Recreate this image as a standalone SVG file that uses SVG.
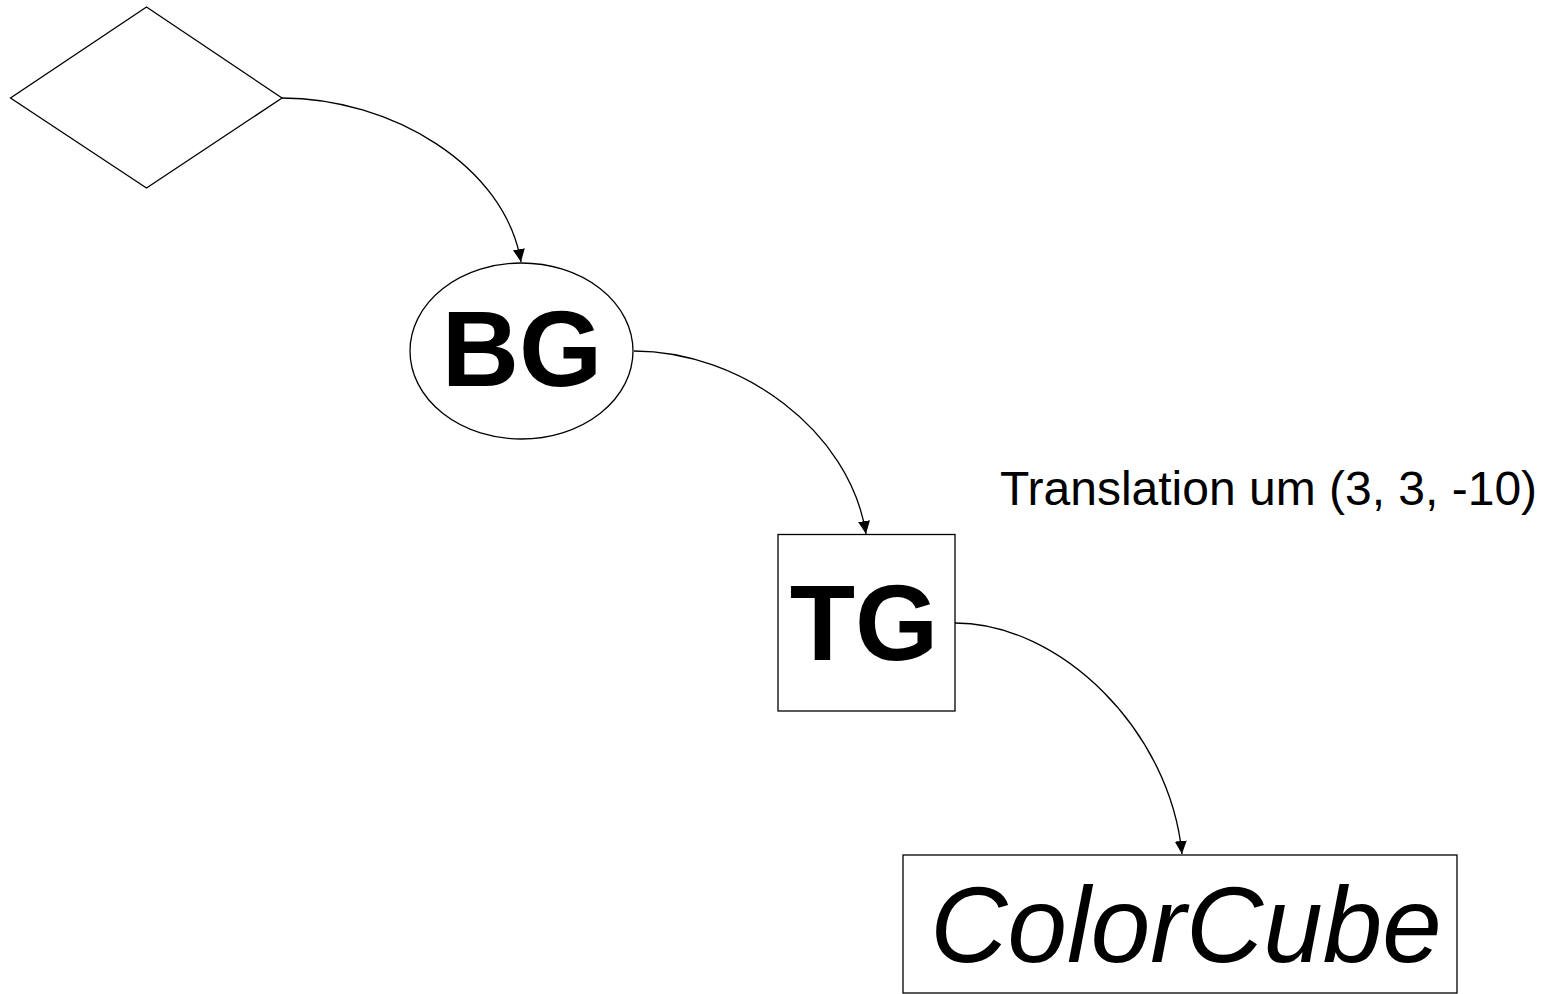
<svg xmlns="http://www.w3.org/2000/svg" width="1554" height="994" viewBox="0 0 1554 994">
  <style>
    .shape { fill: #ffffff; stroke: #000000; stroke-width: 1.3; }
    .edge { fill: none; stroke: #000000; stroke-width: 1.3; }
    .big { font-family: "Liberation Sans", Arial, sans-serif; font-size: 107px; fill: #000000; text-anchor: middle; }
    .bold { font-weight: bold; }
    .italic { font-style: italic; }
    .label { font-family: "Liberation Sans", Arial, sans-serif; font-size: 48px; fill: #000000; }
  </style>
  <defs>
    <marker id="arrow" markerUnits="userSpaceOnUse" markerWidth="14" markerHeight="12" refX="13" refY="6" orient="auto">
      <path d="M0,0 L13,6 L0,12 z" fill="#000000"/>
    </marker>
  </defs>

  <rect width="1554" height="994" fill="#ffffff"/>

  <!-- connectors -->
  <g id="connectors">
    <path class="edge" d="M282,98 C390,98 505,165 521,262" marker-end="url(#arrow)"/>
    <path class="edge" d="M634,351 C740,351 850,430 866,534" marker-end="url(#arrow)"/>
    <path class="edge" d="M955,623 C1060,623 1170,730 1182,854" marker-end="url(#arrow)"/>
  </g>

  <!-- root diamond -->
  <g id="root">
    <polygon class="shape" points="146.5,7 282,98 146.5,188 10.5,98"/>
  </g>

  <!-- branch group -->
  <g id="bg">
    <ellipse class="shape" cx="521.5" cy="351" rx="111.5" ry="88"/>
    <text class="big bold" x="522" y="386">BG</text>
  </g>

  <!-- transform group -->
  <g id="tg">
    <rect class="shape" x="778" y="534.5" width="177" height="176.5"/>
    <text class="big bold" x="864" y="660">TG</text>
  </g>

  <!-- edge label -->
  <g id="translation-label">
    <text class="label" x="1000" y="505">Translation um (3, 3, -10)</text>
  </g>

  <!-- shape leaf -->
  <g id="colorcube">
    <rect class="shape" x="903" y="855" width="554" height="138"/>
    <text class="big italic" x="1186" y="962">ColorCube</text>
  </g>
</svg>
